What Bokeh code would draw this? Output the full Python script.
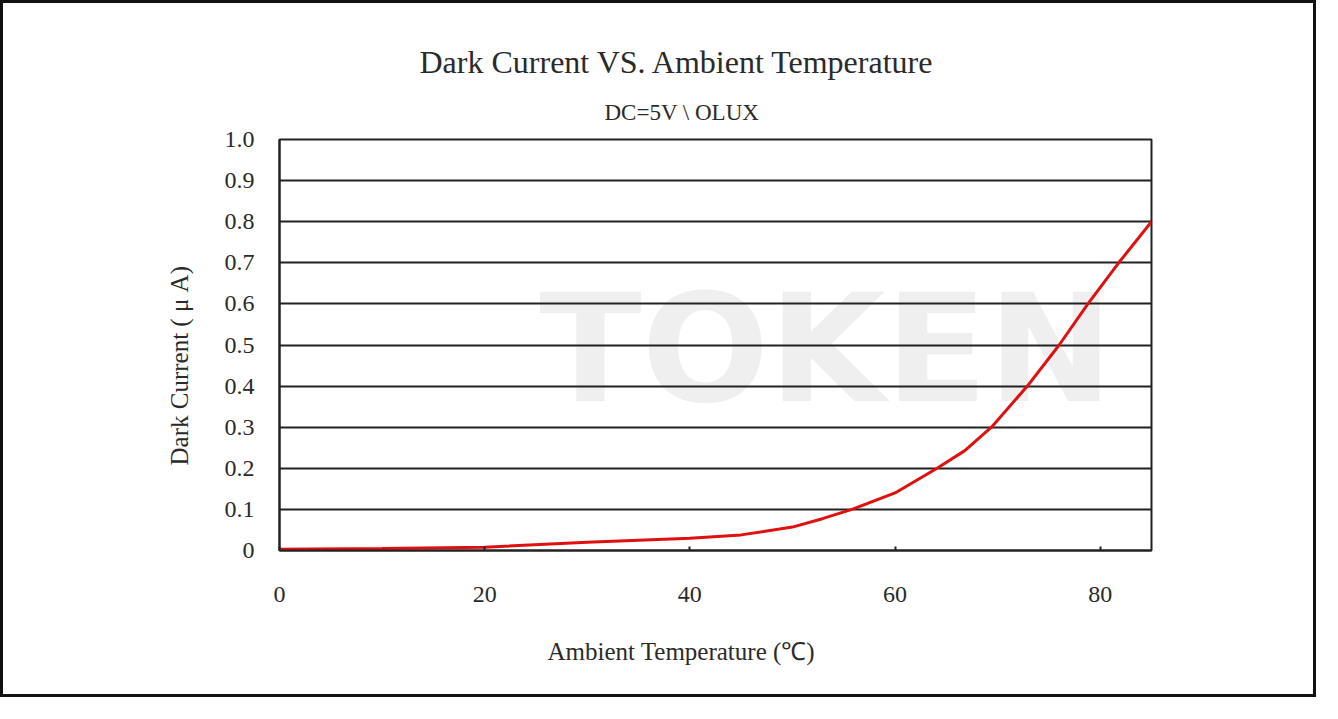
from bokeh.plotting import figure
from bokeh.models import Range1d, FixedTicker, Label, Title
from bokeh.embed import file_html
from bokeh.resources import INLINE

# Data
temperature = [0, 10, 20, 30, 40, 45, 50, 53, 55.8, 60, 64.1, 66.8, 69.4, 72.9, 76.0, 78.8, 81.8, 85]
dark_current = [0.003, 0.005, 0.008, 0.020, 0.030, 0.038, 0.057, 0.078, 0.100, 0.140, 0.200,
                0.243, 0.300, 0.400, 0.500, 0.600, 0.700, 0.800]
x_ticks = [0, 20, 40, 60, 80]
y_ticks = [0, 0.1, 0.2, 0.3, 0.4, 0.5, 0.6, 0.7, 0.8, 0.9, 1.0]
y_tick_labels = {0: "0", 0.1: "0.1", 0.2: "0.2", 0.3: "0.3", 0.4: "0.4", 0.5: "0.5",
                 0.6: "0.6", 0.7: "0.7", 0.8: "0.8", 0.9: "0.9", 1.0: "1.0"}

FONT = "Liberation Serif"
TXT = "#2a2a2a"

p = figure(width=1316, height=697, output_backend="svg", toolbar_location=None,
           x_range=Range1d(0, 85), y_range=Range1d(0, 1.0),
           min_border_left=276, min_border_right=168, min_border_top=136,
           min_border_bottom=150)
p.styles = {"border": "3px solid #111"}

p.title = None
p.add_layout(Title(text="DC=5V \\ OLUX", align="left", text_font=FONT,
                   text_font_size="23px", text_font_style="normal",
                   text_color=TXT, offset=325, standoff=30), "above")
p.add_layout(Title(text="Dark Current VS. Ambient Temperature", align="left",
                   text_font=FONT, text_font_size="32px", text_font_style="normal",
                   text_color=TXT, offset=140, standoff=5), "above")

# watermark
wm = Label(x=53.3, y=0.49, text="TOKEN", text_font="DejaVu Sans",
           text_font_size="150px", text_font_style="bold", text_color="#efefef",
           text_align="center", text_baseline="middle", level="image")
p.add_layout(wm)

p.line(temperature, dark_current, line_color="#e01010", line_width=3)

p.outline_line_color = "#222"
p.outline_line_width = 2
p.background_fill_color = "white"
p.border_fill_color = "white"

p.xgrid.grid_line_color = None
p.ygrid.grid_line_color = "#222"
p.ygrid.grid_line_width = 2
p.ygrid.ticker = FixedTicker(ticks=y_ticks)

p.xaxis.ticker = FixedTicker(ticks=x_ticks)
p.yaxis.ticker = FixedTicker(ticks=y_ticks)
p.yaxis.major_label_overrides = y_tick_labels

for ax in (p.xaxis[0], p.yaxis[0]):
    ax.axis_line_color = "#222"
    ax.axis_line_width = 2
    ax.minor_tick_line_color = None
    ax.major_label_text_font = FONT
    ax.major_label_text_font_size = "24px"
    ax.major_label_text_color = TXT

p.xaxis.major_tick_in = 4
p.xaxis.major_tick_out = 0
p.xaxis.major_tick_line_color = "#222"
p.xaxis.major_tick_line_width = 2
p.xaxis.major_label_standoff = 36

p.yaxis.major_tick_in = 0
p.yaxis.major_tick_out = 0
p.yaxis.major_label_standoff = 25

# axis titles (placed off-centre like the reference)
p.add_layout(Title(text="Ambient Temperature (℃)", align="left", offset=268,
                   text_font=FONT, text_font_size="25px", text_font_style="normal",
                   text_color=TXT, standoff=62), "below")
p.add_layout(Title(text="Dark Current ( μ A)", align="left", offset=85,
                   text_font=FONT, text_font_size="25px", text_font_style="normal",
                   text_color=TXT, standoff=57), "left")

open("out.html", "w").write(file_html(p, INLINE))
